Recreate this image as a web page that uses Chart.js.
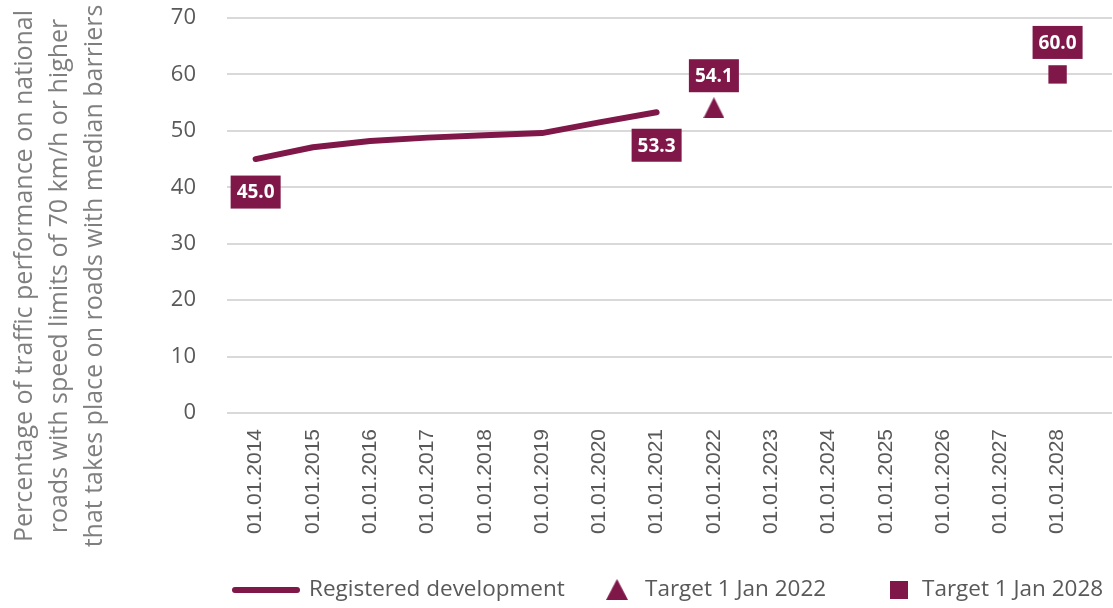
<!DOCTYPE html>
<html>
<head>
<meta charset="utf-8">
<script src="https://cdn.jsdelivr.net/npm/chart.js@4.4.0/dist/chart.umd.min.js"></script>
<style>
html, body { margin: 0; padding: 0; background: #fff; overflow: hidden; }
#wrap { width: 1113px; height: 608px; position: relative; }
</style>
</head>
<body>
<div id="wrap"><canvas id="grafik"></canvas></div>
<script>
// data
const categories = ['01.01.2014', '01.01.2015', '01.01.2016', '01.01.2017', '01.01.2018',
    '01.01.2019', '01.01.2020', '01.01.2021', '01.01.2022', '01.01.2023', '01.01.2024',
    '01.01.2025', '01.01.2026', '01.01.2027', '01.01.2028'];
const registered = [45.0, 47.1, 48.2, 48.8, 49.2, 49.6, 51.5, 53.3, null, null, null, null, null, null, null];
const target2022 = [null, null, null, null, null, null, null, null, 54.1, null, null, null, null, null, null];
const target2028 = [null, null, null, null, null, null, null, null, null, null, null, null, null, null, 60.0];
const yTicks = [0, 10, 20, 30, 40, 50, 60, 70];
const seriesNames = ['Registered development', 'Target 1 Jan 2022', 'Target 1 Jan 2028'];
const yTitle = [
    'Percentage of traffic performance on national',
    'roads with speed limits of 70 km/h or higher',
    'that takes place on roads with median barriers'
];

const MAROON = '#7f1749';
const GREY = '#595959';
const FONT = '"Open Sans", sans-serif';

// which points get a value box, and on which side
const etiketler = [
    { ds: 0, idx: 0, below: true },
    { ds: 0, idx: 7, below: true },
    { ds: 1, idx: 8, below: false },
    { ds: 2, idx: 14, below: false }
];

function noktalar(arr) {
    return arr.map((v, i) => ({ x: i, y: v }));
}

// small triangle image so it sits centred like the reference
const ucgen = document.createElement('canvas');
ucgen.width = 21; ucgen.height = 21;
(function() {
    const c = ucgen.getContext('2d');
    c.fillStyle = MAROON;
    c.beginPath();
    c.moveTo(10.5, 0);
    c.lineTo(21, 21);
    c.lineTo(0, 21);
    c.closePath();
    c.fill();
})();

const cizimEklentisi = {
    id: 'cizimEklentisi',
    afterDatasetsDraw(chart) {
        const ctx = chart.ctx;
        const xs = chart.scales.x, ys = chart.scales.y;

        // value boxes
        ctx.save();
        ctx.font = 'bold 19px ' + FONT;
        ctx.textAlign = 'center';
        ctx.textBaseline = 'middle';
        etiketler.forEach(e => {
            const v = chart.data.datasets[e.ds].data[e.idx].y;
            const px = xs.getPixelForValue(e.idx);
            const py = ys.getPixelForValue(v);
            const txt = v.toFixed(1);
            const w = ctx.measureText(txt).width + 12;
            const h = 33;
            const cy = e.below ? py + 33 : py - 32;
            ctx.fillStyle = MAROON;
            ctx.fillRect(px - w / 2, cy - h / 2, w, h);
            ctx.fillStyle = '#fff';
            ctx.fillText(txt, px, cy + 1);
        });
        ctx.restore();
    },
    afterDraw(chart) {
        const ctx = chart.ctx;

        // y axis title, three lines
        ctx.save();
        ctx.fillStyle = '#7f7f7f';
        ctx.font = '25px ' + FONT;
        ctx.textAlign = 'center';
        ctx.textBaseline = 'alphabetic';
        ctx.translate(0, 276);
        ctx.rotate(-Math.PI / 2);
        const xPos = [32, 67, 102];
        yTitle.forEach((t, i) => ctx.fillText(t, 0, xPos[i]));
        ctx.restore();

        // legend
        ctx.save();
        const ly = 590;
        ctx.strokeStyle = MAROON;
        ctx.lineWidth = 6;
        ctx.lineCap = 'round';
        ctx.beginPath();
        ctx.moveTo(235, ly);
        ctx.lineTo(297, ly);
        ctx.stroke();
        ctx.drawImage(ucgen, 606, ly - 11, 22, 21);
        ctx.fillStyle = MAROON;
        ctx.fillRect(890, ly - 9, 18, 18);
        ctx.fillStyle = GREY;
        ctx.font = '22.5px ' + FONT;
        ctx.textAlign = 'left';
        ctx.textBaseline = 'middle';
        ctx.fillText(seriesNames[0], 309, ly);
        ctx.fillText(seriesNames[1], 645, ly);
        ctx.fillText(seriesNames[2], 922, ly);
        ctx.restore();
    }
};

const chart = new Chart(document.getElementById('grafik'), {
    type: 'line',
    data: {
        datasets: [{
            label: seriesNames[0],
            data: noktalar(registered),
            borderColor: MAROON,
            borderWidth: 6,
            borderCapStyle: 'round',
            borderJoinStyle: 'round',
            pointRadius: 0,
            tension: 0,
            spanGaps: false
        }, {
            label: seriesNames[1],
            data: noktalar(target2022),
            showLine: false,
            pointStyle: ucgen,
            pointRadius: 11,
            backgroundColor: MAROON,
            borderColor: MAROON
        }, {
            label: seriesNames[2],
            data: noktalar(target2028),
            showLine: false,
            pointStyle: 'rect',
            pointRadius: 13,
            borderWidth: 0,
            backgroundColor: MAROON,
            borderColor: MAROON
        }]
    },
    options: {
        responsive: true,
        maintainAspectRatio: false,
        animation: false,
        events: [],
        layout: { autoPadding: false, padding: { left: 0, right: 1, top: 18, bottom: 0 } },
        plugins: { legend: { display: false }, tooltip: { enabled: false } },
        scales: {
            x: {
                type: 'linear',
                bounds: 'data',
                min: -0.5,
                max: 14.95,
                grid: { display: false },
                border: { display: false },
                afterBuildTicks: axis => {
                    axis.ticks = categories.map((_, i) => ({ value: i }));
                    axis.min = -0.5;
                    axis.max = 14.95;
                },
                afterFit: axis => {
                    axis.height = 195;
                    axis.paddingLeft = 0;
                    axis.paddingRight = 0;
                },
                ticks: {
                    autoSkip: false,
                    minRotation: 90,
                    maxRotation: 90,
                    padding: 8,
                    color: GREY,
                    font: { family: '"Liberation Sans", Arial, sans-serif', size: 21 },
                    callback: v => categories[v] || ''
                }
            },
            y: {
                min: 0,
                max: 70,
                afterBuildTicks: axis => { axis.ticks = yTicks.map(v => ({ value: v })); },
                afterFit: axis => {
                    axis.width = 227;
                    axis.paddingTop = 0;
                    axis.paddingBottom = 0;
                },
                grid: { color: '#d9d9d9', lineWidth: 2, drawTicks: false },
                border: { display: false },
                ticks: {
                    padding: 31,
                    color: GREY,
                    font: { family: FONT, size: 22 }
                }
            }
        }
    },
    plugins: [cizimEklentisi]
});
</script>
</body>
</html>
